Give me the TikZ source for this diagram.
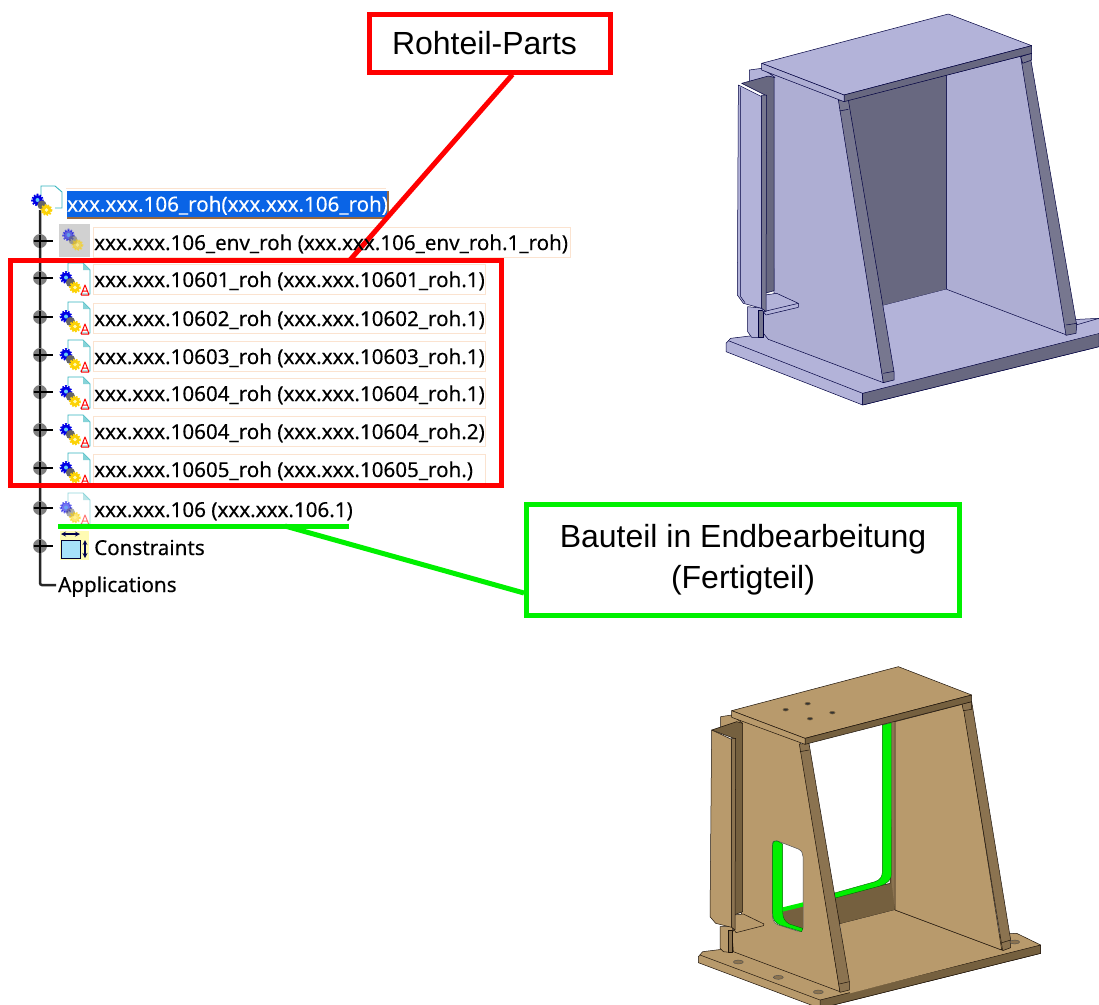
\documentclass[tikz,border=0pt]{standalone}
\usepackage{fontspec}
\setmainfont{Liberation Sans}
\newfontfamily\treefont[FakeBold=0.25]{Noto Sans}
\definecolor{hl}{HTML}{0A64E6}
\definecolor{peach}{HTML}{FBE3D0}
\definecolor{rred}{HTML}{FF0000}
\definecolor{ggreen}{HTML}{00F000}
\definecolor{bl}{HTML}{B3B3D9}
\definecolor{blside}{HTML}{AEAED3}
\definecolor{bldark}{HTML}{686880}
\definecolor{blmid}{HTML}{77778F}
\definecolor{br}{HTML}{B89A6C}
\definecolor{brdark}{HTML}{75603F}
\definecolor{brmid}{HTML}{8B7350}
\definecolor{docteal}{HTML}{35B5BE}
\definecolor{shadowbr}{HTML}{9A6A40}
\tikzset{
 treetext/.style={anchor=west,inner sep=0pt,font=\treefont\fontsize{20.6}{21}\selectfont,text height=16pt,text depth=2pt},
 rowbox/.style={draw=peach,line width=.8pt,fill=white},
 callout/.style={draw,line width=5pt,fill=white,align=center,font=\fontsize{32}{41}\selectfont,inner sep=0pt},
 edge3d/.style={draw=black!75!blue,line width=.5pt,line join=round},
 edgebr/.style={draw=black!85!brown,line width=.5pt,line join=round},
 gearwheel/.style={line width=2pt,dash pattern=on 1.6pt off 1.4pt},
 pics/gears/.style={code={
  \draw[blue!90!black,gearwheel] (-4.5,-5) circle (5.4);
  \fill[blue!90!black] (-4.5,-5) circle (5);
  \fill[cyan!60] (-4.5,-5) circle (2);
  \fill[black!60] (0,0) circle (4.6);
  \draw[yellow!70!orange,gearwheel] (4.5,5) circle (5);
  \fill[yellow!70!orange] (4.5,5) circle (4.8);
  \fill[white!70!yellow] (4.5,5) circle (1.8);
 }},
 pics/docicon/.style={code={
  \draw[docteal,line width=.9pt,fill=white] (-7,-8) -- (-7,-17) -- (8,-17) -- (15,-10) -- (15,14) -- (5,14);
  \fill[docteal!60] (8,-17) -- (15,-10) -- (8,-10) -- cycle;
  \pic at (-4.5,2.5) {gears};
  \draw[red,line width=1pt,line join=round] (6,15) -- (10,5) -- (14,15) (7.5,11) -- (12.5,11) (6,15) -- (14,15);
 }},
 pics/plusmark/.style={code={
  \fill[black!50] (0,0) circle (7);
  \draw[black,line width=2.5pt] (-6.5,0) -- (6.5,0) (0,-6.5) -- (0,6.5);
  \draw[black,line width=1.4pt] (7,0) -- (13,0);
 }}
}
\begin{document}
\begin{tikzpicture}[x=1pt,y=-1pt]
\useasboundingbox (0,0) rectangle (1099,1004);
\fill[white] (0,0) rectangle (1099,1004);

%%% upper model
\begin{scope}[xshift=700pt,x=.33333pt,y=-.33333pt]
 % base plate
 \filldraw[fill=bl,edge3d] (78,1030) -- (92,1015) -- (190,1003) -- (1197,955) -- (1197,1040) -- (488,1215) -- (78,1055) -- cycle;
 \filldraw[fill=bldark,edge3d] (488,1180) -- (1197,1000) -- (1197,1040) -- (488,1215) -- cycle;
 \draw[edge3d] (85,1022) -- (488,1180) -- (488,1215);
 % back wall
 \filldraw[fill=bldark,edge3d] (440,300) -- (740,225) -- (740,868) -- (545,918) -- cycle;
 % floor
 \fill[bl] (545,918) -- (740,868) -- (1100,1005) -- (1197,958) -- (1197,999) -- (550,1160) -- cycle;
 \draw[edge3d] (1128,975) -- (1197,955);
 % right wall
 \filldraw[fill=blside,edge3d] (740,225) -- (965,168) -- (1100,1005) -- (740,868) -- cycle;
 \filldraw[fill=blmid,edge3d] (962,170) -- (990,165) -- (1130,975) -- (1128,1000) -- (1098,1006) -- cycle;
 \filldraw[fill=blmid,edge3d] (962,170) -- (995,160) -- (995,180) -- (968,190) -- cycle;
 \draw[edge3d] (1098,975) -- (1130,970);
 % left wall
 \filldraw[fill=blside,edge3d] (215,215) -- (418,295) -- (550,1148) -- (205,1018) -- (190,1000) -- (190,935) -- (222,880) -- cycle;
 % strut
 \filldraw[fill=blmid,edge3d] (415,300) -- (445,300) -- (582,1115) -- (582,1140) -- (550,1148) -- cycle;
 \draw[edge3d] (418,333) -- (445,328);
 \draw[edge3d] (550,1120) -- (582,1114);
 % small post
 \filldraw[fill=bl,edge3d] (143,920) -- (143,995) -- (155,1012) -- (190,1012) -- (190,925) -- cycle;
 \filldraw[fill=blmid,edge3d] (175,930) -- (190,930) -- (190,1012) -- (175,1012) -- cycle;
 % bracket
 \filldraw[fill=bl,edge3d] (148,210) -- (185,205) -- (225,232) -- (148,245) -- cycle;
 \filldraw[fill=bldark,edge3d] (125,250) -- (205,228) -- (222,232) -- (222,872) -- (195,880) -- (195,285) -- cycle;
 \filldraw[fill=bl,edge3d] (195,885) -- (230,880) -- (295,910) -- (295,922) -- (198,945) -- (186,930) -- cycle;
 \draw[edge3d] (190,935) -- (295,910);
 \filldraw[fill=bl,edge3d] (115,255) -- (185,290) -- (185,925) -- (130,910) -- (112,885) -- cycle;
 \filldraw[fill=blmid,edge3d] (185,285) -- (200,285) -- (198,935) -- (185,925) -- cycle;
 \draw[edge3d] (122,262) -- (122,890) -- (135,908);
 % top plate
 \filldraw[fill=bl,edge3d] (185,190) -- (745,42) -- (995,137) -- (432,285) -- cycle;
 \filldraw[fill=bldark,edge3d] (432,285) -- (995,137) -- (995,160) -- (432,305) -- cycle;
 \filldraw[fill=blside,edge3d] (185,190) -- (432,285) -- (432,305) -- (185,210) -- cycle;
\end{scope}

%%% lower model
\begin{scope}[xshift=670pt,yshift=-650pt,x=.33333pt,y=-.33333pt]
 % base plate
 \filldraw[fill=br,edgebr] (85,920) -- (98,905) -- (180,895) -- (1040,850) -- (1112,885) -- (1112,910) -- (450,1075) -- (85,938) -- cycle;
 \filldraw[fill=brdark,edgebr] (450,1050) -- (1112,885) -- (1112,910) -- (450,1075) -- cycle;
 \draw[edgebr] (90,915) -- (450,1050);
 % back wall lower part and opening
 \filldraw[fill=brdark,edgebr] (490,740) -- (660,700) -- (675,215) -- (675,780) -- (510,822) -- cycle;
 \fill[white] (417,280) -- (637,225) -- (637,672) -- (490,730) -- cycle;
 \filldraw[fill=ggreen,draw=black!60!green,line width=.4pt] (637,225) -- (665,218) -- (665,670) .. controls (665,690) and (650,702) .. (630,708) -- (492,745) -- (490,730) -- (615,695) .. controls (630,690) and (637,680) .. (637,665) -- cycle;
 \fill[brmid] (665,215) -- (675,215) -- (675,780) -- (665,700) -- cycle;
 \draw[edgebr] (675,215) -- (675,780);
 % floor
 \fill[br] (510,822) -- (675,780) -- (995,900) -- (1020,870) -- (1100,885) -- (540,1030) -- cycle;
 \draw[edgebr] (675,780) -- (995,900);
 % right wall
 \filldraw[fill=br,edgebr] (675,215) -- (880,162) -- (995,900) -- (675,780) -- cycle;
 \filldraw[fill=brmid,edgebr] (878,162) -- (905,155) -- (1022,870) -- (1022,893) -- (998,902) -- cycle;
 \filldraw[fill=brmid,edgebr] (876,162) -- (905,155) -- (905,178) -- (880,182) -- cycle;
 \draw[edgebr] (996,878) -- (1022,870);
 % left wall
 \filldraw[fill=br,edgebr] (205,205) -- (390,275) -- (510,1025) -- (190,905) -- (186,850) -- (215,790) -- cycle;
 % window
 \filldraw[fill=white,draw=black!70,line width=.5pt] (320,572) -- (385,597) .. controls (395,602) and (399,610) .. (399,620) -- (399,832) .. controls (399,842) and (392,846) .. (382,843) -- (325,825) .. controls (312,820) and (307,808) .. (307,795) -- (307,585) .. controls (307,575) and (312,570) .. (320,572) -- cycle;
 \fill[brdark] (338,780) -- (399,762) -- (399,835) -- (388,840) -- (345,822) -- (335,800) -- cycle;
 \filldraw[fill=ggreen,draw=black!60!green,line width=.4pt] (322,573) -- (338,582) -- (338,785) .. controls (338,805) and (345,815) .. (358,822) -- (398,835) -- (395,845) -- (330,825) .. controls (315,818) and (308,808) .. (308,790) -- (308,585) .. controls (308,575) and (315,570) .. (322,573) -- cycle;
 \fill[ggreen] (338,772) -- (399,757) -- (399,770) -- (338,785) -- cycle;
 % strut
 \filldraw[fill=brmid,edgebr] (388,282) -- (417,280) -- (538,995) -- (538,1020) -- (510,1027) -- cycle;
 \draw[edgebr] (390,305) -- (417,300);
 \draw[edgebr] (508,1002) -- (538,995);
 % holes
 \foreach \hx/\hy in {205/936,325/982,445/1026,1034/876}{
  \filldraw[fill=brmid,draw=black!70,line width=.4pt] (\hx,\hy) ellipse (15 and 6);
 }
 % small post
 \filldraw[fill=br,edgebr] (150,830) -- (150,895) -- (160,905) -- (188,908) -- (188,830) -- cycle;
 \filldraw[fill=brmid,edgebr] (174,840) -- (188,840) -- (188,908) -- (174,908) -- cycle;
 % bracket
 \filldraw[fill=br,edgebr] (152,200) -- (185,195) -- (218,220) -- (152,240) -- cycle;
 \filldraw[fill=brdark,edgebr] (125,240) -- (200,215) -- (218,220) -- (218,785) -- (192,795) -- (192,265) -- cycle;
 \filldraw[fill=br,edgebr] (192,795) -- (220,792) -- (282,822) -- (280,827) -- (198,848) -- (186,830) -- cycle;
 \filldraw[fill=br,edgebr] (125,240) -- (185,268) -- (185,832) -- (137,820) -- (120,800) -- cycle;
 \filldraw[fill=brmid,edgebr] (185,265) -- (197,265) -- (195,840) -- (185,832) -- cycle;
 % top plate
 \filldraw[fill=br,edgebr] (185,182) -- (685,50) -- (905,135) -- (405,265) -- cycle;
 \filldraw[fill=brdark,edgebr] (405,265) -- (905,135) -- (905,155) -- (405,283) -- cycle;
 \filldraw[fill=br,edgebr] (185,182) -- (405,265) -- (405,283) -- (185,202) -- cycle;
 \foreach \hx/\hy in {347/179,413/161,487/188,420/206}{
  \filldraw[fill=black!80,draw=brdark,line width=.6pt] (\hx,\hy) ellipse (8 and 4);
 }
\end{scope}

%%% tree lines and plus marks
\draw[black!85,line width=2.5pt,rounded corners=2pt] (40,210) -- (40,585) -- (56,585);
\foreach \ry in {241,278,317,355,392,430,468,508,546}{
 \pic at (40,\ry) {plusmark};
}
% row frames
\foreach \ry/\rw in {243/570,280/485,319/485,357/485,394/485,432/485,470/485}{
 \draw[rowbox] (93,\ry-16) rectangle (\rw,\ry+14);
}
% root icon
\draw[docteal,line width=.9pt,fill=white] (41,196) -- (41,186) -- (55,186) -- (62,192) -- (62,208) -- (55,208);
\pic (rooticon) at (42,205) {gears};
\draw[peach,line width=.8pt] (66,188) -- (386,188);
\node[fill=hl,treetext,text=white,minimum height=27pt,inner sep=0pt,minimum width=320pt,text height=16pt] (root) at (67,204.5) {xxx.xxx.106\_roh(xxx.xxx.106\_roh)};
\draw[shadowbr,line width=1.6pt] (root.south west) -- (root.south east) -- (root.north east);

%%% callouts and red connector (the tree text lies on it)
\node[callout,draw=rred,minimum width=241pt,minimum height=58pt] (rparts) at (489.5,43) {\hspace*{-10pt}Rohteil-Parts};
\node[callout,draw=ggreen,minimum width=433pt,minimum height=111pt] (bauteil) at (743,560) {\raisebox{8pt}{Bauteil in Endbearbeitung}\\\raisebox{8pt}{(Fertigteil)}};
\coordinate (rtip) at (350,260);
\draw[rred,line width=5pt] (rparts.south) ++(23,0) coordinate (rstart) -- (rtip);

% env icon
\fill[black!18] (59,224) rectangle (90,257);
\begin{scope}[opacity=.55]
 \pic at (73,240) {gears};
\end{scope}
\node[treetext] (env) at (94,243) {xxx.xxx.106\_env\_roh (xxx.xxx.106\_env\_roh.1\_roh)};
\foreach \ry/\nm/\tx in {
 280/r1/{xxx.xxx.10601\_roh (xxx.xxx.10601\_roh.1)},
 319/r2/{xxx.xxx.10602\_roh (xxx.xxx.10602\_roh.1)},
 357/r3/{xxx.xxx.10603\_roh (xxx.xxx.10603\_roh.1)},
 394/r4/{xxx.xxx.10604\_roh (xxx.xxx.10604\_roh.1)},
 432/r5/{xxx.xxx.10604\_roh (xxx.xxx.10604\_roh.2)},
 470/r6/{xxx.xxx.10605\_roh (xxx.xxx.10605\_roh.)}}{
 \pic at (75,\ry) {docicon};
 \node[treetext] (\nm) at (94,\ry) {\tx};
}
% faded icon
\begin{scope}[opacity=.55]
 \pic at (75,510) {docicon};
\end{scope}
\node[treetext] (last) at (94,510) {xxx.xxx.106 (xxx.xxx.106.1)};
% constraints icon
\fill[yellow!30] (60,531) rectangle (89,560);
\filldraw[fill=cyan!35,draw=black!80!blue,line width=1pt] (61,540) rectangle (80,558);
\draw[black!70!blue,line width=1.2pt,<->,>=stealth] (61,534) -- (80,534);
\draw[black!70!blue,line width=1.2pt,<->,>=stealth] (85,540) -- (85,558);
\node[treetext] (cons) at (94,548) {Constraints};
\node[treetext] (apps) at (58,585) {Applications};

%%% red frame and green connectors
\node[draw=rred,line width=5pt,fill=none,minimum width=490.5pt,minimum height=225pt,inner sep=0pt] (frame) at (255.75,373) {};
\coordinate (gtip) at (285,526);
\coordinate (gl) at (58,526);
\coordinate (gr) at (349,526);
\draw[ggreen,line width=5pt] (gl) -- (gr);
\draw[ggreen,line width=5pt] (bauteil.west) ++(0,33) coordinate (gstart) -- (gtip);
\end{tikzpicture}
\end{document}
